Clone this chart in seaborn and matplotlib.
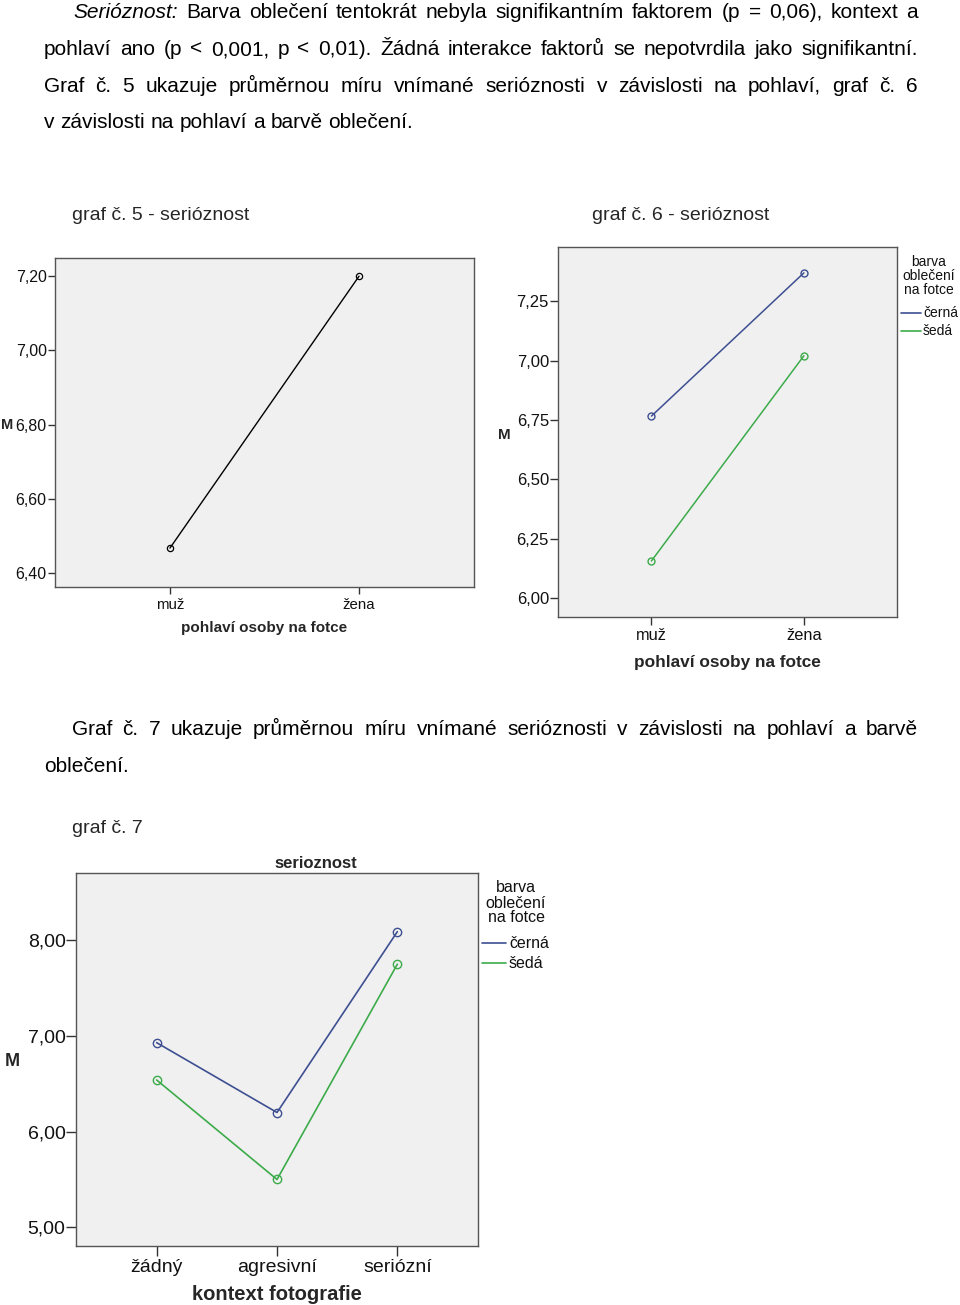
import matplotlib
matplotlib.use("Agg")
import matplotlib.pyplot as plt
from matplotlib.lines import Line2D
import seaborn as sns
import pandas as pd

# ---------------- data ----------------
gender = ["muž", "žena"]
g5_means = [6.467, 7.20]

colors_labels = ["černá", "šedá"]
g6_cerna = [6.767, 7.37]
g6_seda = [6.157, 7.021]

context = ["žádný", "agresivní", "seriózní"]
g7_cerna = [6.93, 6.20, 8.09]
g7_seda = [6.54, 5.50, 7.75]

g5_ticks = [6.40, 6.60, 6.80, 7.00, 7.20]
g5_ticklabels = ["6,40", "6,60", "6,80", "7,00", "7,20"]
g6_ticks = [6.00, 6.25, 6.50, 6.75, 7.00, 7.25]
g6_ticklabels = ["6,00", "6,25", "6,50", "6,75", "7,00", "7,25"]
g7_ticks = [5.0, 6.0, 7.0, 8.0]
g7_ticklabels = ["5,00", "6,00", "7,00", "8,00"]

# ---------------- style ----------------
sns.set_style("white")
plt.rcParams["font.family"] = ["Liberation Sans", "DejaVu Sans"]

W, H = 960, 1305
fig = plt.figure(figsize=(W / 100, H / 100), dpi=100)
fig.patch.set_facecolor("white")

BLUE = "#3d4f91"
GREEN = "#3cab4a"
BG = "#f0f0f0"
FRAME = "#555555"


def fx(x):
    return x / W


def fy(y):
    return 1 - y / H


def add_axes_px(left, top, right, bottom):
    return fig.add_axes([fx(left), fy(bottom), (right - left) / W, (bottom - top) / H])


def ftext(x, y, s, **kw):
    return fig.text(fx(x), fy(y), s, **kw)


# ---------------- body text with justification ----------------
BODY = 15
renderer = fig.canvas.get_renderer()


def measure(s, **kw):
    t = fig.text(0, 0, s, fontsize=BODY, **kw)
    w = t.get_window_extent(renderer).width
    t.remove()
    return w


space_w = measure("a a") - measure("aa")


def body_line(words, x0, x1, ybase, justify=True):
    widths = [measure(w, style=st) for w, st in words]
    total = sum(widths)
    n = len(words) - 1
    gap = (x1 - x0 - total) / n if (justify and n > 0) else space_w
    x = x0
    for (w, st), wd in zip(words, widths):
        ftext(x, ybase, w, fontsize=BODY, style=st, ha="left", va="baseline", color="black")
        x += wd + gap


def words_of(s, first_italic=False):
    ws = s.split(" ")
    out = []
    for i, w in enumerate(ws):
        out.append((w, "italic" if (first_italic and i == 0) else "normal"))
    return out


body_line(words_of("Serióznost: Barva oblečení tentokrát nebyla signifikantním faktorem (p = 0,06), kontext a",
                   first_italic=True), 73, 918, 18)
body_line(words_of("pohlaví ano (p < 0,001, p < 0,01). Žádná interakce faktorů se nepotvrdila jako signifikantní."),
          44, 918, 55)
body_line(words_of("Graf č. 5 ukazuje průměrnou míru vnímané serióznosti v závislosti na pohlaví, graf č. 6"),
          44, 918, 92)
body_line(words_of("v závislosti na pohlaví a barvě oblečení."), 44, 918, 128, justify=False)

ftext(72, 220, "graf č. 5 - serióznost", fontsize=14, va="baseline")
ftext(592, 220, "graf č. 6 - serióznost", fontsize=14, va="baseline")

body_line(words_of("Graf č. 7 ukazuje průměrnou míru vnímané serióznosti v závislosti na pohlaví a barvě"),
          72, 918, 735)
body_line(words_of("oblečení."), 44, 918, 772, justify=False)
ftext(72, 833, "graf č. 7", fontsize=14, va="baseline")


# ---------------- helpers ----------------
def style_axes(ax, tick_size, tick_len, pad_y, pad_x):
    ax.set_facecolor(BG)
    for sp in ax.spines.values():
        sp.set_visible(True)
        sp.set_color(FRAME)
        sp.set_linewidth(1.0)
    ax.tick_params(axis="both", direction="out", length=tick_len, width=1.0,
                   color="#333333", labelsize=tick_size, labelcolor="#111111",
                   left=True, bottom=True)
    ax.tick_params(axis="y", pad=pad_y)
    ax.tick_params(axis="x", pad=pad_x)
    ax.grid(False)
    ax.set_xlabel("")
    ax.set_ylabel("")


def legend_px(title_lines, title_x, title_ys, entries, line_x0, line_x1, text_x, size):
    for s, y in zip(title_lines, title_ys):
        ftext(title_x, y, s, fontsize=size, ha="center", va="center", color="#111111")
    for (lab, col, y) in entries:
        fig.add_artist(Line2D([fx(line_x0), fx(line_x1)], [fy(y), fy(y)],
                              transform=fig.transFigure, color=col, lw=1.2))
        ftext(text_x, y, lab, fontsize=size, ha="left", va="center", color="#111111")


# ---------------- graf 5 ----------------
ax1 = add_axes_px(55, 258, 474, 587)
df5 = pd.DataFrame({"pohlavi": gender, "M": g5_means})
sns.lineplot(data=df5, x="pohlavi", y="M", ax=ax1, color="black", lw=1.0,
             marker="o", markersize=4.5, markerfacecolor="none",
             markeredgecolor="black", markeredgewidth=0.9)
style_axes(ax1, 11.5, 5, 1, 3)
ax1.set_xticks(range(len(gender)))
ax1.set_xticklabels(gender, fontsize=10.8)
ax1.set_xlim(-0.608, 1.608)
ax1.set_yticks(g5_ticks)
ax1.set_yticklabels(g5_ticklabels)
ax1.set_ylim(6.362, 7.249)
ftext(7, 425, "M", fontsize=10.5, fontweight="bold", ha="center", va="center")
ftext(264.5, 628, "pohlaví osoby na fotce", fontsize=11, fontweight="bold", ha="center", va="center")

# ---------------- graf 6 ----------------
ax2 = add_axes_px(558, 247, 897, 617)
df6 = pd.DataFrame({
    "pohlavi": gender * 2,
    "M": g6_cerna + g6_seda,
    "barva": [colors_labels[0]] * 2 + [colors_labels[1]] * 2,
})
sns.lineplot(data=df6, x="pohlavi", y="M", hue="barva", ax=ax2,
             palette={colors_labels[0]: BLUE, colors_labels[1]: GREEN}, lw=1.1,
             marker="o", markersize=5, markerfacecolor="none", markeredgewidth=1.0,
             legend=False)
for ln, c in zip(ax2.get_lines(), [BLUE, GREEN]):
    ln.set_markeredgecolor(c)
style_axes(ax2, 12, 6, 0.5, 2)
ax2.set_xticks(range(len(gender)))
ax2.set_xticklabels(gender, fontsize=11.8)
ax2.set_xlim(-0.613, 1.611)
ax2.set_yticks(g6_ticks)
ax2.set_yticklabels(g6_ticklabels)
ax2.set_ylim(5.921, 7.479)
ftext(504, 435, "M", fontsize=11, fontweight="bold", ha="center", va="center")
ftext(727.5, 662, "pohlaví osoby na fotce", fontsize=12.4, fontweight="bold", ha="center", va="center")
legend_px(["barva", "oblečení", "na fotce"], 929, [262, 276, 290],
          [(colors_labels[0], BLUE, 313), (colors_labels[1], GREEN, 331)],
          901, 921, 923, 10)

# ---------------- graf 7 ----------------
ax3 = add_axes_px(76, 873, 478, 1246)
df7 = pd.DataFrame({
    "kontext": context * 2,
    "M": g7_cerna + g7_seda,
    "barva": [colors_labels[0]] * 3 + [colors_labels[1]] * 3,
})
sns.lineplot(data=df7, x="kontext", y="M", hue="barva", ax=ax3,
             palette={colors_labels[0]: BLUE, colors_labels[1]: GREEN}, lw=1.2,
             marker="o", markersize=6, markerfacecolor="none", markeredgewidth=1.0,
             legend=False, sort=False)
for ln, c in zip(ax3.get_lines(), [BLUE, GREEN]):
    ln.set_markeredgecolor(c)
style_axes(ax3, 14, 7, 0.5, 2)
ax3.set_xticks(range(len(context)))
ax3.set_xticklabels(context, fontsize=14)
ax3.set_xlim(-0.67, 2.67)
ax3.set_yticks(g7_ticks)
ax3.set_yticklabels(g7_ticklabels)
ax3.set_ylim(4.805, 8.703)
ftext(12, 1062, "M", fontsize=13, fontweight="bold", ha="center", va="center")
ftext(277, 1294, "kontext fotografie", fontsize=14.5, fontweight="bold", ha="center", va="center")
ftext(316, 863, "serioznost", fontsize=12, fontweight="bold", ha="center", va="center")
legend_px(["barva", "oblečení", "na fotce"], 516, [888, 903, 918],
          [(colors_labels[0], BLUE, 943), (colors_labels[1], GREEN, 963)],
          482, 506, 509, 11.5)

fig.savefig("out.png", dpi=100, facecolor="white")
